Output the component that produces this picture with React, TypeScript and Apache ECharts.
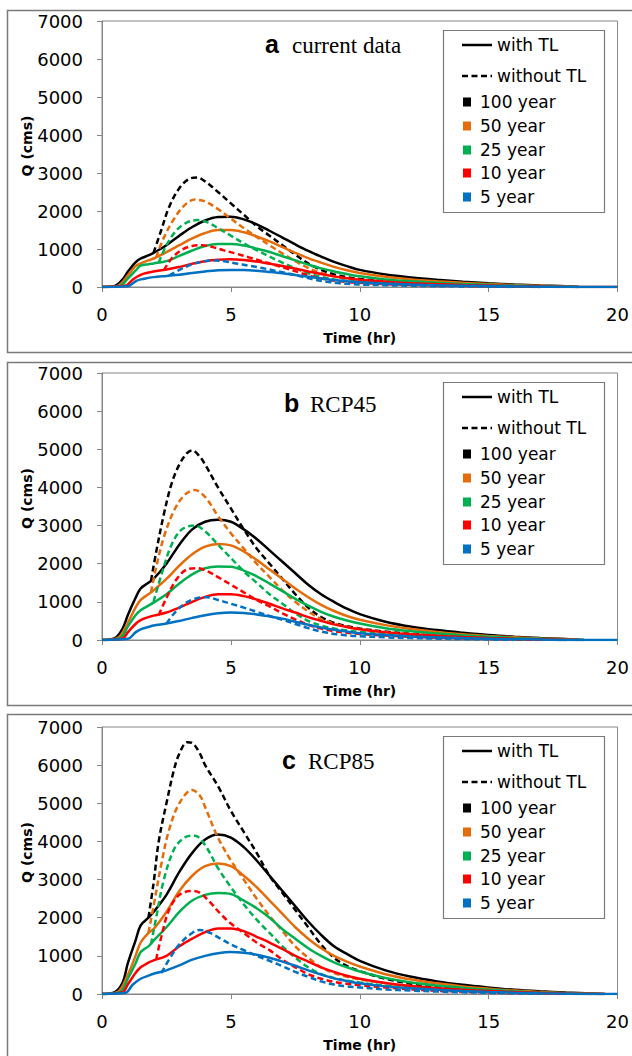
import React, { useEffect, useRef } from 'react';
import * as echarts from 'echarts';

type Pts = [number, number][];

const periods = ['100 year', '50 year', '25 year', '10 year', '5 year'];
const periodColors = ['#000000', '#E46C0A', '#00B050', '#FF0000', '#0070C0'];
const panelLetters = ['a', 'b', 'c'];
const panelNames = ['current data', 'RCP45', 'RCP85'];
const styleNames = ['with TL', 'without TL'];
const yAxisTitle = 'Q (cms)';
const xAxisTitle = 'Time (hr)';

// ---------- panel a : current data ----------
const a100With: Pts = [[0,0],[0.5,30],[0.8,200],[1.0,400],[1.3,650],[1.5,750],[1.8,830],[2.0,900],[2.5,1100],[3.0,1350],[3.5,1580],[4.0,1750],[4.5,1840],[5.0,1850],[5.5,1780],[6.0,1650],[6.5,1480],[7.0,1300],[7.5,1120],[8.0,950],[8.5,800],[9.0,660],[9.5,550],[10,450],[11,330],[12,250],[13,190],[14,140],[15,100],[16,65],[17,40],[18,20],[18.5,0]];
const a100Without: Pts = [[2.0,900],[2.3,1500],[2.6,2100],[3.0,2600],[3.4,2850],[3.7,2880],[4.0,2780],[4.5,2500],[5.0,2200],[5.5,1900],[6.0,1600],[6.5,1350],[7.0,1100],[7.5,850],[8.0,620],[8.5,450],[9.0,330],[9.5,260],[10,210],[11,150],[12,110],[13,80],[14,55],[15,35],[16,20],[17,0]];
const a50With: Pts = [[0,0],[0.6,30],[1.0,300],[1.3,550],[1.5,620],[1.8,700],[2.0,750],[2.5,920],[3.0,1100],[3.5,1280],[4.0,1420],[4.5,1500],[5.0,1500],[5.5,1440],[6.0,1330],[6.5,1200],[7.0,1050],[7.5,900],[8.0,760],[8.5,640],[9.0,530],[9.5,440],[10,370],[11,270],[12,200],[13,150],[14,110],[15,80],[16,50],[17,30],[18,12],[18.5,0]];
const a50Without: Pts = [[2.1,780],[2.4,1300],[2.8,1800],[3.2,2150],[3.6,2300],[4.0,2250],[4.5,2050],[5.0,1800],[5.5,1550],[6.0,1320],[6.5,1100],[7.0,880],[7.5,680],[8.0,500],[8.5,370],[9.0,280],[9.5,220],[10,180],[11,130],[12,95],[13,70],[14,48],[15,32],[16,18],[17,0]];
const a25With: Pts = [[0,0],[0.7,30],[1.0,220],[1.3,430],[1.5,560],[1.8,600],[2.0,620],[2.5,680],[3.0,820],[3.5,960],[4.0,1080],[4.5,1130],[5.0,1130],[5.5,1090],[6.0,1010],[6.5,920],[7.0,810],[7.5,700],[8.0,590],[8.5,490],[9.0,410],[9.5,340],[10,280],[11,200],[12,150],[13,110],[14,80],[15,58],[16,38],[17,22],[18,10],[18.5,0]];
const a25Without: Pts = [[2.2,640],[2.5,1100],[2.9,1500],[3.3,1700],[3.7,1760],[4.1,1700],[4.5,1550],[5.0,1350],[5.5,1150],[6.0,970],[6.5,800],[7.0,640],[7.5,490],[8.0,360],[8.5,270],[9.0,200],[9.5,160],[10,130],[11,95],[12,70],[13,50],[14,35],[15,22],[16,12],[17,0]];
const a10With: Pts = [[0,0],[0.9,30],[1.2,200],[1.5,320],[1.8,380],[2.0,410],[2.5,460],[3.0,530],[3.5,610],[4.0,680],[4.5,720],[5.0,730],[5.5,710],[6.0,670],[6.5,610],[7.0,550],[7.5,480],[8.0,410],[8.5,340],[9.0,280],[9.5,230],[10,190],[11,140],[12,100],[13,75],[14,55],[15,40],[16,26],[17,15],[18,6],[20,0]];
const a10Without: Pts = [[2.4,440],[2.7,750],[3.1,980],[3.5,1080],[3.9,1100],[4.3,1050],[4.7,970],[5.2,880],[5.7,780],[6.2,680],[6.7,580],[7.2,480],[7.7,370],[8.2,270],[8.7,200],[9.2,150],[9.7,120],[10.2,100],[11,75],[12,55],[13,40],[14,28],[15,18],[16,10],[17,0]];
const a5With: Pts = [[0,0],[1.0,20],[1.3,150],[1.5,200],[1.8,240],[2.0,260],[2.5,290],[3.0,320],[3.5,370],[4.0,410],[4.5,440],[5.0,450],[5.5,445],[6.0,425],[6.5,395],[7.0,360],[7.5,315],[8.0,270],[8.5,225],[9.0,185],[9.5,150],[10,125],[11,90],[12,65],[13,48],[14,35],[15,25],[16,16],[17,9],[18,0],[20,0]];
const a5Without: Pts = [[2.6,300],[3.0,450],[3.5,600],[4.0,680],[4.4,700],[4.8,670],[5.2,620],[5.7,560],[6.2,500],[6.7,430],[7.2,360],[7.7,280],[8.2,200],[8.7,140],[9.2,100],[9.7,75],[10.2,60],[11,45],[12,32],[13,22],[14,15],[15,9],[16,0]];

// ---------- panel b : RCP45 ----------
const b100With: Pts = [[0,0],[0.5,50],[0.8,300],[1.0,650],[1.3,1100],[1.5,1350],[1.8,1500],[2.0,1600],[2.5,2000],[3.0,2500],[3.5,2900],[4.0,3100],[4.5,3150],[5.0,3100],[5.5,2900],[6.0,2650],[6.5,2350],[7.0,2050],[7.5,1750],[8.0,1450],[8.5,1200],[9.0,1000],[9.5,820],[10,680],[11,480],[12,350],[13,260],[14,190],[15,130],[16,85],[17,50],[18,25],[18.7,0]];
const b100Without: Pts = [[1.9,1550],[2.1,2300],[2.4,3300],[2.7,4100],[3.0,4600],[3.3,4900],[3.5,4970],[3.8,4800],[4.0,4600],[4.5,4000],[5.0,3450],[5.5,2900],[6.0,2400],[6.5,2000],[7.0,1600],[7.5,1200],[8.0,850],[8.5,600],[9.0,450],[9.5,360],[10,300],[11,220],[12,160],[13,110],[14,75],[15,50],[16,30],[17,15],[18,0]];
const b50With: Pts = [[0,0],[0.6,50],[1.0,450],[1.3,850],[1.5,1050],[1.8,1200],[2.0,1300],[2.5,1600],[3.0,1950],[3.5,2250],[4.0,2450],[4.5,2520],[5.0,2480],[5.5,2320],[6.0,2100],[6.5,1850],[7.0,1600],[7.5,1350],[8.0,1120],[8.5,920],[9.0,760],[9.5,630],[10,530],[11,390],[12,290],[13,210],[14,150],[15,105],[16,70],[17,40],[18,20],[18.5,0]];
const b50Without: Pts = [[1.9,1250],[2.1,1900],[2.4,2700],[2.8,3400],[3.2,3800],[3.6,3930],[4.0,3750],[4.5,3250],[5.0,2800],[5.5,2400],[6.0,2000],[6.5,1650],[7.0,1300],[7.5,1000],[8.0,750],[8.5,550],[9.0,430],[9.5,350],[10,290],[11,210],[12,150],[13,105],[14,70],[15,45],[16,28],[17,15],[18,0]];
const b25With: Pts = [[0,0],[0.7,50],[1.0,350],[1.3,650],[1.5,780],[1.8,900],[2.0,980],[2.5,1200],[3.0,1480],[3.5,1720],[4.0,1880],[4.5,1930],[5.0,1920],[5.5,1820],[6.0,1670],[6.5,1480],[7.0,1280],[7.5,1080],[8.0,900],[8.5,740],[9.0,610],[9.5,510],[10,430],[11,310],[12,230],[13,170],[14,120],[15,85],[16,55],[17,30],[18,15],[18.7,0]];
const b25Without: Pts = [[2.0,1000],[2.3,1700],[2.7,2500],[3.1,2900],[3.6,3000],[4.0,2850],[4.5,2500],[5.0,2150],[5.5,1800],[6.0,1500],[6.5,1200],[7.0,950],[7.5,700],[8.0,500],[8.5,380],[9.0,300],[9.5,250],[10,210],[11,150],[12,110],[13,80],[14,55],[15,38],[16,22],[17,10],[18,0]];
const b10With: Pts = [[0,0],[0.8,40],[1.0,200],[1.3,420],[1.5,520],[1.8,600],[2.0,640],[2.5,720],[3.0,850],[3.5,1000],[4.0,1130],[4.5,1200],[5.0,1200],[5.5,1150],[6.0,1060],[6.5,950],[7.0,830],[7.5,720],[8.0,600],[8.5,500],[9.0,410],[9.5,340],[10,280],[11,200],[12,150],[13,110],[14,80],[15,55],[16,35],[17,20],[18,8],[18.5,0]];
const b10Without: Pts = [[2.2,650],[2.5,1100],[2.9,1600],[3.3,1850],[3.7,1880],[4.1,1800],[4.5,1650],[5.0,1450],[5.5,1250],[6.0,1050],[6.5,880],[7.0,700],[7.5,540],[8.0,400],[8.5,300],[9.0,230],[9.5,190],[10,160],[11,115],[12,85],[13,60],[14,42],[15,28],[16,16],[17,0]];
const b5With: Pts = [[0,0],[1.0,30],[1.3,200],[1.5,280],[1.8,340],[2.0,380],[2.5,430],[3.0,500],[3.5,580],[4.0,650],[4.5,700],[5.0,720],[5.5,710],[6.0,670],[6.5,620],[7.0,560],[7.5,480],[8.0,400],[8.5,330],[9.0,270],[9.5,220],[10,180],[11,130],[12,95],[13,70],[14,50],[15,35],[16,22],[17,12],[18,0],[20,0]];
const b5Without: Pts = [[2.5,430],[2.8,700],[3.2,950],[3.7,1100],[4.1,1120],[4.5,1050],[5.0,950],[5.5,850],[6.0,740],[6.5,630],[7.0,530],[7.5,420],[8.0,310],[8.5,220],[9.0,160],[9.5,120],[10,100],[11,70],[12,50],[13,35],[14,24],[15,15],[16,0]];

// ---------- panel c : RCP85 ----------
const c100With: Pts = [[0,0],[0.5,50],[0.8,300],[1.0,800],[1.3,1400],[1.5,1800],[1.8,2000],[2.0,2150],[2.5,2600],[3.0,3200],[3.5,3700],[4.0,4050],[4.5,4180],[5.0,4100],[5.5,3850],[6.0,3500],[6.5,3100],[7.0,2700],[7.5,2300],[8.0,1900],[8.5,1550],[9.0,1250],[9.5,1050],[10,870],[11,620],[12,450],[13,330],[14,240],[15,170],[16,110],[17,70],[18,40],[19,15],[19.5,0]];
const c100Without: Pts = [[1.8,2000],[2.0,2900],[2.2,4000],[2.5,5000],[2.8,5900],[3.0,6300],[3.3,6600],[3.5,6580],[3.8,6300],[4.0,6000],[4.5,5450],[5.0,4800],[5.5,4250],[6.0,3700],[6.5,3100],[7.0,2650],[7.5,2200],[8.0,1750],[8.5,1300],[9.0,950],[9.5,740],[10,600],[11,400],[12,270],[13,180],[14,120],[15,80],[16,50],[17,30],[18,15],[19,0]];
const c50With: Pts = [[0,0],[0.6,50],[1.0,500],[1.3,1000],[1.5,1350],[1.8,1600],[2.0,1700],[2.5,2150],[3.0,2700],[3.5,3100],[4.0,3350],[4.5,3420],[5.0,3350],[5.5,3100],[6.0,2800],[6.5,2450],[7.0,2100],[7.5,1750],[8.0,1450],[8.5,1200],[9.0,1000],[9.5,850],[10,720],[11,520],[12,380],[13,280],[14,200],[15,140],[16,90],[17,55],[18,25],[19,10],[19.5,0]];
const c50Without: Pts = [[1.8,1600],[2.0,2300],[2.3,3400],[2.6,4300],[3.0,5000],[3.5,5350],[3.8,5200],[4.0,4900],[4.5,4100],[5.0,3500],[5.5,3000],[6.0,2500],[6.5,2050],[7.0,1650],[7.5,1250],[8.0,950],[8.5,700],[9.0,550],[9.5,450],[10,380],[11,280],[12,200],[13,140],[14,100],[15,70],[16,45],[17,25],[18,10],[19,0]];
const c25With: Pts = [[0,0],[0.7,50],[1.0,400],[1.3,800],[1.5,1100],[1.8,1250],[2.0,1400],[2.5,1750],[3.0,2150],[3.5,2450],[4.0,2600],[4.5,2650],[5.0,2620],[5.5,2450],[6.0,2250],[6.5,2000],[7.0,1700],[7.5,1450],[8.0,1200],[8.5,1000],[9.0,830],[9.5,700],[10,590],[11,420],[12,300],[13,220],[14,160],[15,110],[16,70],[17,40],[18,20],[19,5],[19.3,0]];
const c25Without: Pts = [[1.9,1300],[2.1,2000],[2.4,3000],[2.8,3800],[3.2,4100],[3.6,4150],[4.0,3900],[4.5,3300],[5.0,2800],[5.5,2350],[6.0,1950],[6.5,1600],[7.0,1250],[7.5,950],[8.0,700],[8.5,520],[9.0,420],[9.5,350],[10,300],[11,220],[12,160],[13,110],[14,80],[15,55],[16,35],[17,20],[18,8],[18.5,0]];
const c10With: Pts = [[0,0],[0.8,50],[1.0,250],[1.3,550],[1.5,700],[1.8,820],[2.0,880],[2.5,1000],[3.0,1250],[3.5,1450],[4.0,1620],[4.5,1720],[5.0,1720],[5.5,1650],[6.0,1500],[6.5,1350],[7.0,1180],[7.5,1000],[8.0,850],[8.5,700],[9.0,580],[9.5,480],[10,400],[11,290],[12,210],[13,150],[14,110],[15,80],[16,50],[17,30],[18,15],[19,5],[19.5,0]];
const c10Without: Pts = [[2.1,900],[2.3,1500],[2.6,2200],[3.0,2600],[3.5,2700],[3.8,2650],[4.2,2400],[4.6,2100],[5.0,1850],[5.5,1600],[6.0,1350],[6.5,1150],[7.0,900],[7.5,700],[8.0,520],[8.5,400],[9.0,320],[9.5,270],[10,230],[11,170],[12,120],[13,85],[14,60],[15,40],[16,25],[17,12],[18,0]];
const c5With: Pts = [[0,0],[0.9,30],[1.2,250],[1.5,400],[1.8,480],[2.0,530],[2.5,620],[3.0,750],[3.5,900],[4.0,1000],[4.5,1070],[5.0,1100],[5.5,1080],[6.0,1030],[6.5,950],[7.0,850],[7.5,740],[8.0,620],[8.5,510],[9.0,410],[9.5,340],[10,280],[11,200],[12,150],[13,110],[14,80],[15,55],[16,35],[17,20],[18,8],[18.5,0],[20,0]];
const c5Without: Pts = [[2.3,550],[2.6,900],[3.0,1300],[3.5,1600],[3.8,1680],[4.2,1600],[4.6,1450],[5.0,1300],[5.5,1150],[6.0,1000],[6.5,870],[7.0,730],[7.5,580],[8.0,450],[8.5,330],[9.0,250],[9.5,200],[10,170],[11,120],[12,90],[13,65],[14,45],[15,30],[16,18],[17,0]];

const panelWith: Pts[][] = [
  [a100With, a50With, a25With, a10With, a5With],
  [b100With, b50With, b25With, b10With, b5With],
  [c100With, c50With, c25With, c10With, c5With],
];
const panelWithout: Pts[][] = [
  [a100Without, a50Without, a25Without, a10Without, a5Without],
  [b100Without, b50Without, b25Without, b10Without, b5Without],
  [c100Without, c50Without, c25Without, c10Without, c5Without],
];

// ---------- layout ----------
const W = 632;
const H = 1056;
const gridTops = [21, 373, 727];
const gridHeights = [266, 267, 267];
const gridLeft = 102;
const gridRight = 14;
const boxTops = [10, 362, 714];
const boxHeights = [342, 343, 360];
const titleY = [44, 403, 760];
const letterX = [265, 284, 282];
const nameX = [292, 310, 308];

const SANS = 'DejaVu Sans';
const AXIS_GREY = '#868686';

function buildOption(): any {
  const grids: any[] = [];
  const xAxes: any[] = [];
  const yAxes: any[] = [];
  const series: any[] = [];
  const graphic: any[] = [];

  for (let p = 0; p < 3; p++) {
    graphic.push({
      type: 'rect',
      z: -10,
      silent: true,
      shape: { x: 7.5, y: boxTops[p] + 0.5, width: 700, height: boxHeights[p] },
      style: { fill: '#ffffff', stroke: '#7a7a7a', lineWidth: 1.5 },
    });

    grids.push({
      left: gridLeft,
      right: gridRight,
      top: gridTops[p],
      height: gridHeights[p],
      show: true,
      borderColor: AXIS_GREY,
      borderWidth: 1,
      backgroundColor: 'transparent',
    });

    xAxes.push({
      type: 'value',
      gridIndex: p,
      min: 0,
      max: 20,
      interval: 5,
      name: xAxisTitle,
      nameLocation: 'middle',
      nameGap: 44,
      nameTextStyle: { fontFamily: SANS, fontWeight: 'bold', fontSize: 14, color: '#000' },
      axisLine: { show: true, lineStyle: { color: AXIS_GREY, width: 1 } },
      axisTick: { show: true, inside: false, length: 5, lineStyle: { color: AXIS_GREY } },
      axisLabel: { fontFamily: SANS, fontSize: 18, color: '#000', margin: 18, formatter: (v: number) => String(v) },
      splitLine: { show: false },
    });

    yAxes.push({
      type: 'value',
      gridIndex: p,
      min: 0,
      max: 7000,
      interval: 1000,
      axisLine: { show: true, lineStyle: { color: AXIS_GREY, width: 1 } },
      axisTick: { show: true, inside: false, length: 5, lineStyle: { color: AXIS_GREY } },
      axisLabel: { fontFamily: SANS, fontSize: 18, color: '#000', margin: 19, formatter: (v: number) => String(v) },
      splitLine: { show: false },
    });

    // y axis title
    graphic.push({
      type: 'text',
      x: 27,
      y: gridTops[p] + gridHeights[p] / 2 - 8,
      rotation: Math.PI / 2,
      style: {
        text: yAxisTitle,
        fontFamily: SANS,
        fontWeight: 'bold',
        fontSize: 14,
        fill: '#000',
        align: 'center',
        verticalAlign: 'middle',
      },
    });

    // panel title
    graphic.push({
      type: 'text',
      x: letterX[p],
      y: titleY[p],
      style: {
        text: panelLetters[p],
        fontFamily: 'Liberation Sans',
        fontWeight: 'bold',
        fontSize: 25,
        fill: '#000',
        align: 'left',
        verticalAlign: 'middle',
      },
    });
    graphic.push({
      type: 'text',
      x: nameX[p],
      y: titleY[p] + 1,
      style: {
        text: panelNames[p],
        fontFamily: 'Liberation Serif',
        fontSize: 23,
        fill: '#000',
        align: 'left',
        verticalAlign: 'middle',
      },
    });

    // legend
    const lt = gridTops[p] + 9;
    const lx = 443;
    const legendChildren: any[] = [];
    legendChildren.push({
      type: 'rect',
      shape: { x: lx + 0.5, y: lt + 0.5, width: 161, height: 182 },
      style: { fill: '#ffffff', stroke: '#7a7a7a', lineWidth: 1.2 },
    });
    const rowY = [15, 46, 72, 96, 120, 143, 167];
    for (let s = 0; s < 2; s++) {
      legendChildren.push({
        type: 'line',
        shape: { x1: lx + 19, y1: lt + rowY[s], x2: lx + 49, y2: lt + rowY[s] },
        style: { stroke: '#000', lineWidth: 2.5, lineDash: s === 1 ? [6, 3.5] : null },
      });
      legendChildren.push({
        type: 'text',
        x: lx + 54,
        y: lt + rowY[s],
        style: { text: styleNames[s], fontFamily: SANS, fontSize: 17, fill: '#000', align: 'left', verticalAlign: 'middle' },
      });
    }
    for (let k = 0; k < periods.length; k++) {
      const yy = lt + rowY[k + 2];
      legendChildren.push({
        type: 'rect',
        shape: { x: lx + 20, y: yy - 4.5, width: 8, height: 9 },
        style: { fill: periodColors[k] },
      });
      legendChildren.push({
        type: 'text',
        x: lx + 37,
        y: yy,
        style: { text: periods[k], fontFamily: SANS, fontSize: 17, fill: '#000', align: 'left', verticalAlign: 'middle' },
      });
    }
    graphic.push({ type: 'group', z: 50, children: legendChildren });

    for (let k = 0; k < periods.length; k++) {
      series.push({
        type: 'line',
        name: `${panelLetters[p]} ${periods[k]} ${styleNames[0]}`,
        xAxisIndex: p,
        yAxisIndex: p,
        data: panelWith[p][k],
        showSymbol: false,
        symbol: 'none',
        smooth: 0.35,
        lineStyle: { color: periodColors[k], width: 2.5, type: 'solid' },
        z: 3 + k,
      });
      series.push({
        type: 'line',
        name: `${panelLetters[p]} ${periods[k]} ${styleNames[1]}`,
        xAxisIndex: p,
        yAxisIndex: p,
        data: panelWithout[p][k],
        showSymbol: false,
        symbol: 'none',
        smooth: 0.35,
        lineStyle: { color: periodColors[k], width: 2.5, type: [6, 3.5] },
        z: 3 + k,
      });
    }
  }

  return {
    animation: false,
    backgroundColor: '#ffffff',
    grid: grids,
    xAxis: xAxes,
    yAxis: yAxes,
    series,
    graphic,
  };
}

export default function App() {
  const ref = useRef<HTMLDivElement>(null);
  useEffect(() => {
    if (!ref.current) return;
    const chart = echarts.init(ref.current, undefined, { renderer: 'svg', width: W, height: H });
    chart.setOption(buildOption());
    return () => {
      chart.dispose();
    };
  }, []);
  return (
    <div
      ref={ref}
      style={{ position: 'fixed', left: 0, top: 0, width: W, height: H, background: '#fff' }}
    />
  );
}
